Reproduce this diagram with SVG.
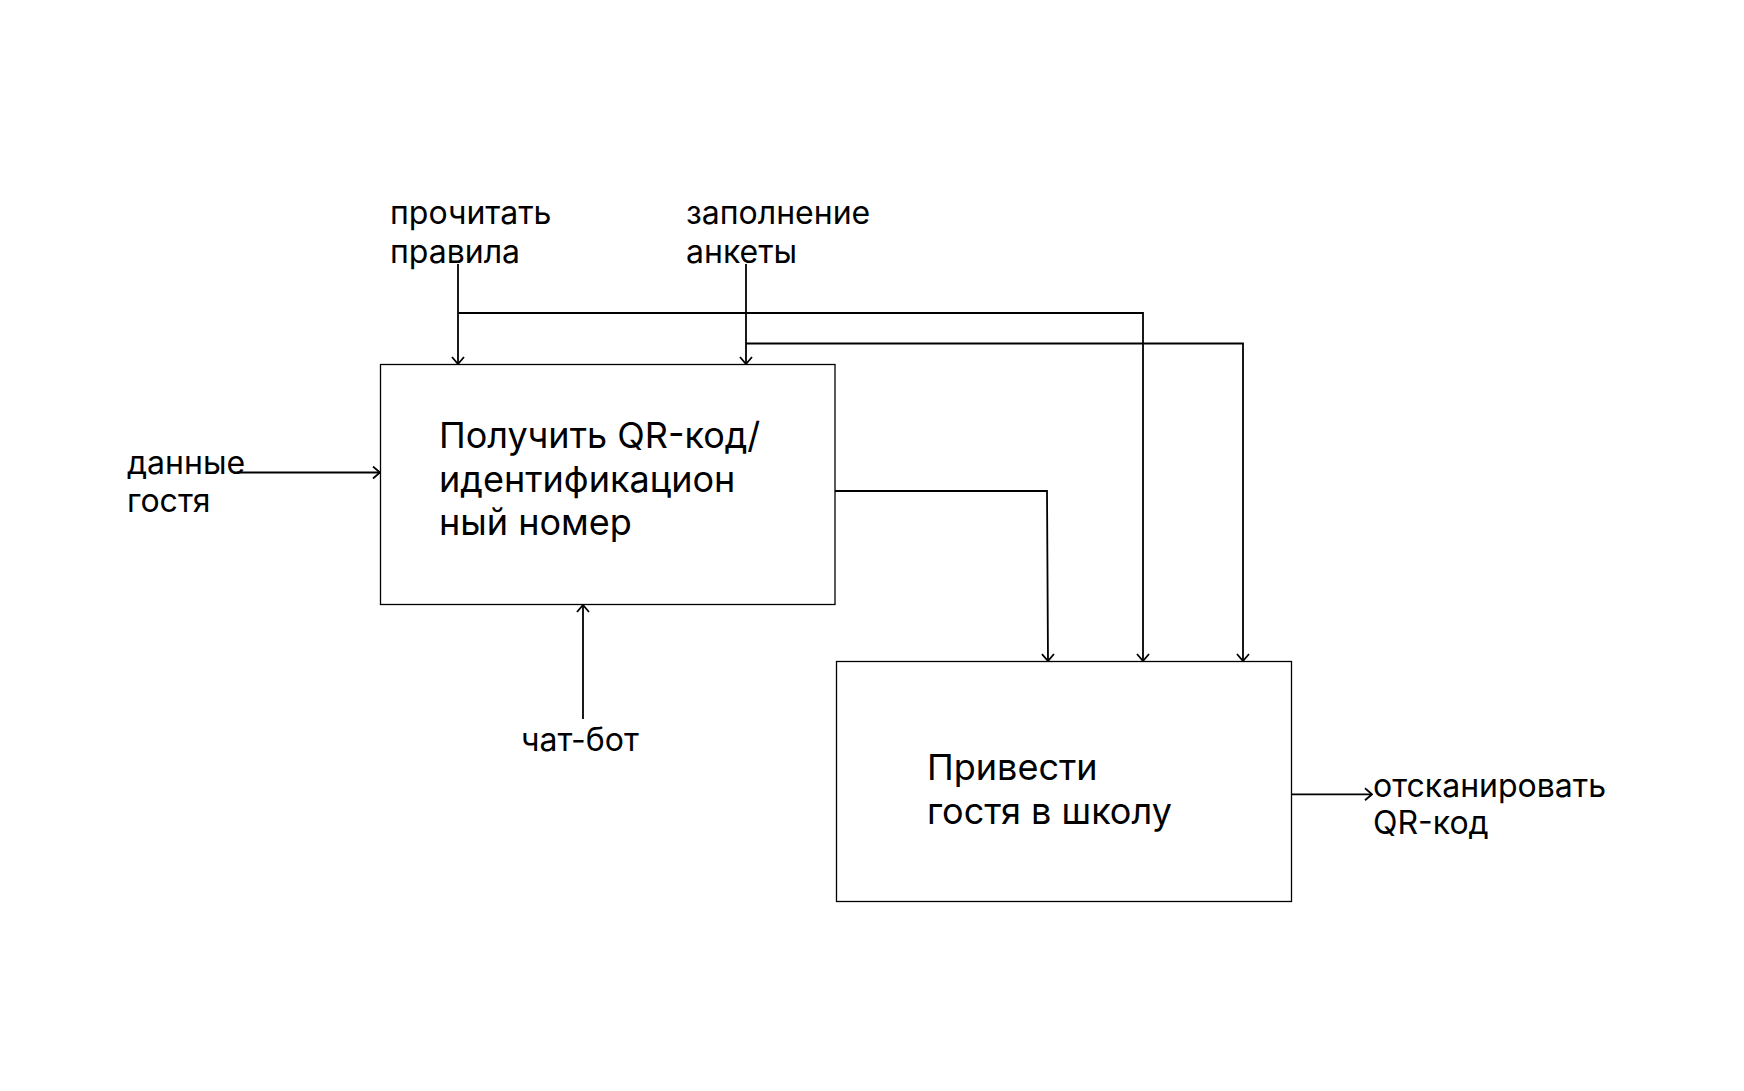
<svg xmlns="http://www.w3.org/2000/svg" width="1744" height="1091" viewBox="0 0 1744 1091">
<defs>
<marker id="arr" viewBox="0 0 14 14" refX="13" refY="7" markerWidth="14" markerHeight="14" markerUnits="userSpaceOnUse" orient="auto">
<path d="M6,1 L13,7 L6,13" fill="none" stroke="#000" stroke-width="1.8"/>
</marker>
<style>
.box{fill:#fff;stroke:#000;stroke-width:1.3}
.lbl{font-family:Inter,"Noto Sans",sans-serif;font-size:32px;fill:#000}
.big{font-family:Inter,"Noto Sans",sans-serif;font-size:36px;fill:#000}
.c{fill:none;stroke:#000;stroke-width:1.8}
</style>
</defs>
<rect width="1744" height="1091" fill="#fff"/>
<g id="node-get-qr">
<rect class="box" x="380.5" y="364.5" width="454.5" height="240"/>
<text class="big" x="439" y="448">Получить QR-код/</text>
<text class="big" x="439" y="492">идентификацион</text>
<text class="big" x="439" y="535">ный номер</text>
</g>
<g id="node-bring-guest">
<rect class="box" x="836.5" y="661.5" width="455" height="240"/>
<text class="big" x="927" y="780">Привести</text>
<text class="big" x="927" y="824">гостя в школу</text>
</g>
<g id="labels">
<text class="lbl" x="390" y="224">прочитать</text>
<text class="lbl" x="390" y="263">правила</text>
<text class="lbl" x="686" y="224">заполнение</text>
<text class="lbl" x="686" y="263">анкеты</text>
<text class="lbl" x="127" y="474">данные</text>
<text class="lbl" x="127" y="512">гостя</text>
<text class="lbl" x="521" y="751">чат-бот</text>
<text class="lbl" x="1373" y="797">отсканировать</text>
<text class="lbl" x="1373" y="834">QR-код</text>
</g>
<g id="connectors">
<path class="c" d="M458,264 V364" marker-end="url(#arr)"/>
<path class="c" d="M746,264 V364" marker-end="url(#arr)"/>
<path class="c" d="M458,313 H1143 V661" marker-end="url(#arr)"/>
<path class="c" d="M746,343.5 H1243 V661" marker-end="url(#arr)"/>
<path class="c" d="M835,491 H1047 L1048,661" marker-end="url(#arr)"/>
<path class="c" d="M237,472.5 H380" marker-end="url(#arr)"/>
<path class="c" d="M583,719 V605" marker-end="url(#arr)"/>
<path class="c" d="M1291,794.3 H1372" marker-end="url(#arr)"/>
</g>
</svg>
